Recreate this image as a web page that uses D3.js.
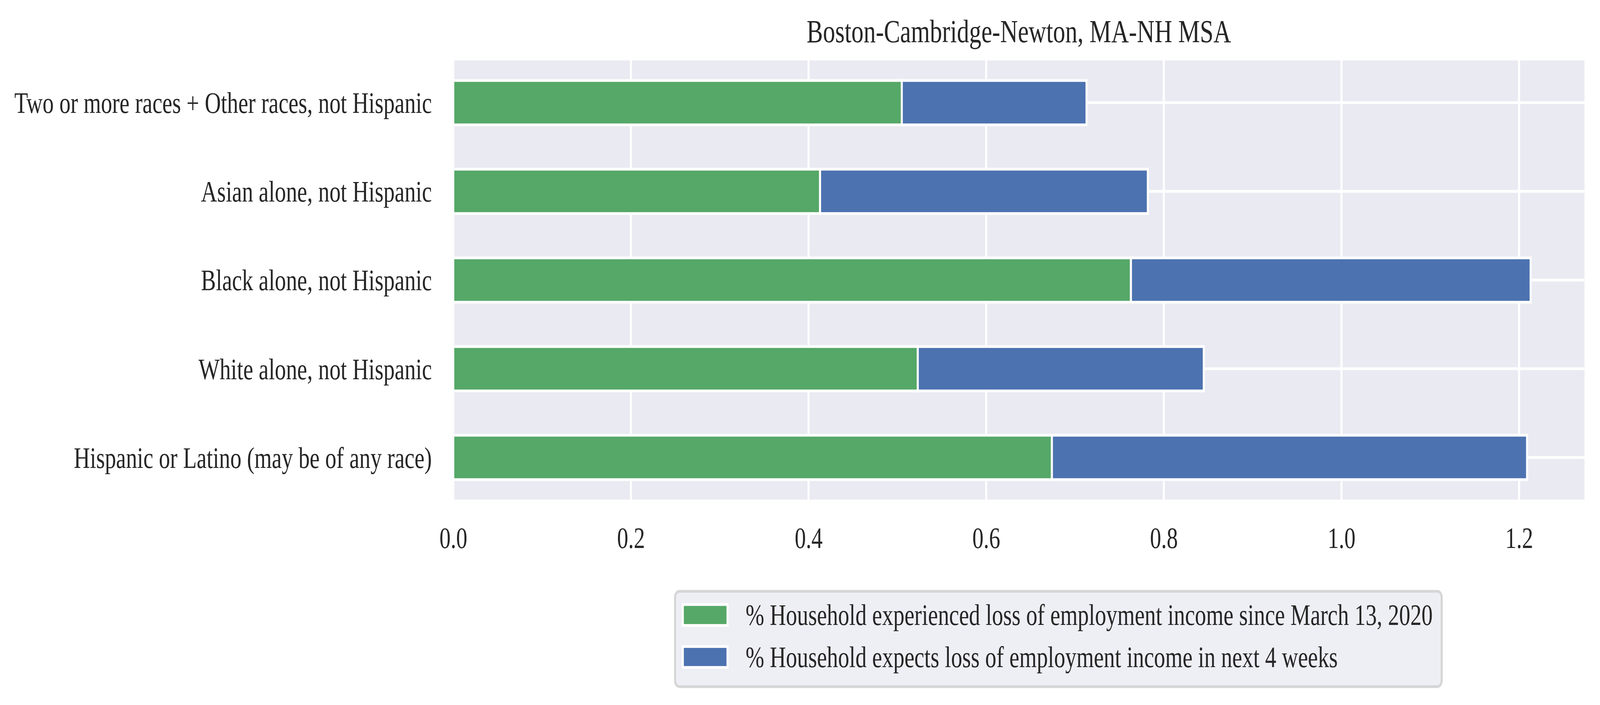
<!DOCTYPE html>
<html>
<head>
<meta charset="utf-8">
<script src="https://cdn.jsdelivr.net/npm/d3@7"></script>
<style>
  html, body { margin: 0; padding: 0; background: #ffffff; overflow: hidden; width: 100%; height: 100%; }
  svg { display: block; width: 100vw; height: 100vh; }
  text { font-family: "Liberation Serif", "Times New Roman", Times, serif; fill: #262626; }
</style>
</head>
<body>
<script>
// ---- data (bottom to top, as drawn) ----
const categories = [
  "Hispanic or Latino (may be of any race)",
  "White alone, not Hispanic",
  "Black alone, not Hispanic",
  "Asian alone, not Hispanic",
  "Two or more races + Other races, not Hispanic"
];
const lossSinceMarch = [0.674, 0.523, 0.763, 0.413, 0.505];
const expectsLossNext4Weeks = [0.535, 0.322, 0.450, 0.369, 0.208];
const seriesNames = [
  "% Household experienced loss of employment income since March 13, 2020",
  "% Household expects loss of employment income in next 4 weeks"
];
const seriesColors = ["#55A868", "#4C72B0"];
const xTickValues = [0.0, 0.2, 0.4, 0.6, 0.8, 1.0, 1.2];
const chartTitle = "Boston-Cambridge-Newton, MA-NH MSA";

// ---- layout ----
const W = 5468, H = 1805;
const plot = { left: 1549, right: 5415, top: 155, bottom: 1279 };
const fs = 76.4, titleFs = 83.3;

const svg = d3.select("body").append("svg")
  .attr("viewBox", `0 0 ${W} ${H}`)
  .attr("preserveAspectRatio", "none");

const rows = categories.map((c, i) => ({ cat: c, idx: i, a: lossSinceMarch[i], b: expectsLossNext4Weeks[i] }));
const stack = d3.stack().keys(["a", "b"]);
const stacked = stack(rows);
const maxTotal = d3.max(rows, d => d.a + d.b);

const x = d3.scaleLinear().domain([0, maxTotal * 1.05]).range([plot.left, plot.right]);
const y = d3.scaleLinear().domain([-0.475, categories.length - 1 + 0.475]).range([plot.bottom, plot.top]);
const barH = y(0) - y(0.5);

// background
svg.append("rect")
  .attr("x", plot.left).attr("y", plot.top)
  .attr("width", plot.right - plot.left).attr("height", plot.bottom - plot.top)
  .attr("fill", "#EAEAF2");

svg.append("clipPath").attr("id", "clip")
  .append("rect")
  .attr("x", plot.left).attr("y", plot.top)
  .attr("width", plot.right - plot.left).attr("height", plot.bottom - plot.top);

const inner = svg.append("g").attr("clip-path", "url(#clip)");

// grid
inner.append("g").selectAll("line").data(xTickValues).join("line")
  .attr("x1", d => x(d)).attr("x2", d => x(d))
  .attr("y1", plot.top).attr("y2", plot.bottom)
  .attr("stroke", "#ffffff").attr("stroke-width", 7);
inner.append("g").selectAll("line").data(d3.range(categories.length)).join("line")
  .attr("x1", plot.left).attr("x2", plot.right)
  .attr("y1", d => y(d)).attr("y2", d => y(d))
  .attr("stroke", "#ffffff").attr("stroke-width", 7);

// bars
stacked.forEach((layer, si) => {
  inner.append("g").selectAll("rect").data(layer).join("rect")
    .attr("x", d => x(d[0]))
    .attr("width", d => x(d[1]) - x(d[0]))
    .attr("y", d => y(d.data.idx) - barH / 2)
    .attr("height", barH)
    .attr("fill", seriesColors[si])
    .attr("stroke", "#ffffff")
    .attr("stroke-width", 7);
});

// x axis
const xAxis = svg.append("g")
  .attr("transform", `translate(0,${plot.bottom})`)
  .call(d3.axisBottom(x).tickValues(xTickValues).tickFormat(d3.format(".1f")).tickSize(0));
xAxis.select(".domain").remove();
xAxis.selectAll("text")
  .attr("y", 124).attr("dy", null)
  .attr("font-size", fs)
  .style("font-family", '"Liberation Serif", "Times New Roman", serif')
  .attr("fill", "#262626");

// y axis
const yAxis = svg.append("g")
  .attr("transform", `translate(${plot.left},0)`)
  .call(d3.axisLeft(y).tickValues(d3.range(categories.length)).tickFormat(i => categories[i]).tickSize(0));
yAxis.select(".domain").remove();
yAxis.selectAll("text")
  .attr("x", -(plot.left - 1476)).attr("dy", "0.34em")
  .attr("font-size", fs)
  .style("font-family", '"Liberation Serif", "Times New Roman", serif')
  .attr("fill", "#262626");

// title
svg.append("text")
  .attr("x", (plot.left + plot.right) / 2).attr("y", 108)
  .attr("text-anchor", "middle")
  .attr("font-size", titleFs)
  .text(chartTitle);

// legend
const lg = { x: 2307, y: 1514, w: 2620, h: 244 };
svg.append("rect")
  .attr("x", lg.x).attr("y", lg.y).attr("width", lg.w).attr("height", lg.h)
  .attr("rx", 15).attr("ry", 15)
  .attr("fill", "#EEEEF5")
  .attr("stroke", "#D6D6D6").attr("stroke-width", 7);
const entries = svg.append("g").selectAll("g").data(seriesNames).join("g")
  .attr("transform", (d, i) => `translate(0,${1574.5 + i * 107.5})`);
entries.append("rect")
  .attr("x", 2333.5).attr("y", -26.7).attr("width", 152.8).attr("height", 53.5)
  .attr("fill", (d, i) => seriesColors[i])
  .attr("stroke", "#ffffff").attr("stroke-width", 7);
entries.append("text")
  .attr("x", 2548).attr("y", 25.5)
  .attr("font-size", fs)
  .text(d => d);
</script>
</body>
</html>
